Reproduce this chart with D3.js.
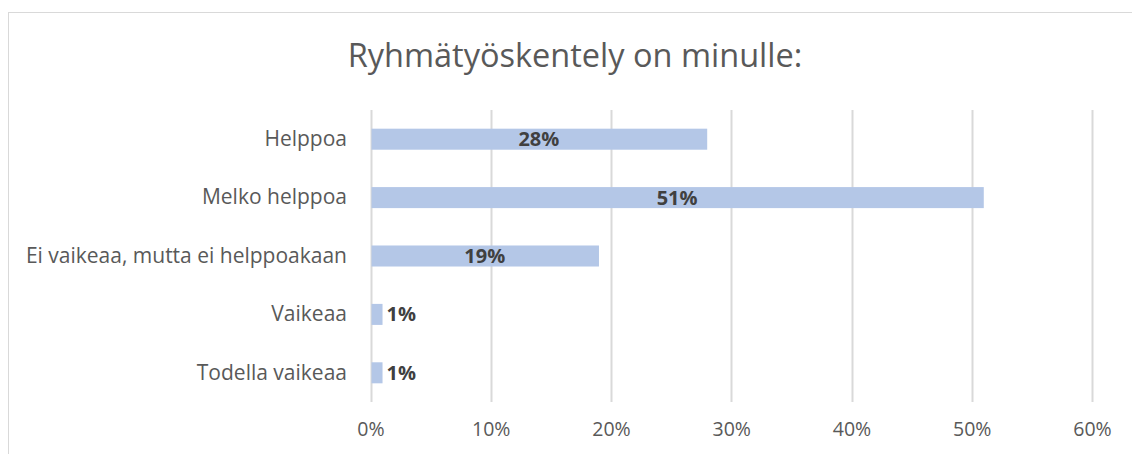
<!DOCTYPE html>
<html>
<head>
<meta charset="utf-8">
<script src="https://cdn.jsdelivr.net/npm/d3@7"></script>
<style>
  body { margin: 0; background: #fff; }
  svg { display: block; font-family: "Open Sans", sans-serif; }
</style>
</head>
<body>
<svg width="1132" height="454"></svg>
<script>
// data
var categories = ['Helppoa', 'Melko helppoa', 'Ei vaikeaa, mutta ei helppoakaan', 'Vaikeaa', 'Todella vaikeaa'];
var values = [28, 51, 19, 1, 1];
var tickValues = [0, 10, 20, 30, 40, 50, 60];
var title = 'Ryhmätyöskentely on minulle:';

var svg = d3.select('svg');

// chart frame (cut off on the right and bottom)
svg.append('rect')
    .attr('x', 8.5).attr('y', 12.5)
    .attr('width', 1140).attr('height', 460)
    .attr('fill', 'none')
    .attr('stroke', '#d9d9d9');

var x = d3.scaleLinear().domain([0, 60]).range([370.5, 1092]);
var y = d3.scaleBand().domain(categories).range([110, 402]).paddingInner(0.64).paddingOuter(0.32);

// gridlines
svg.append('g')
    .selectAll('line')
    .data(tickValues)
    .enter()
    .append('line')
    .attr('x1', function (d) { return Math.round(x(d)) + 0.5; })
    .attr('x2', function (d) { return Math.round(x(d)) + 0.5; })
    .attr('y1', 110).attr('y2', 402)
    .attr('stroke', '#d9d9d9')
    .attr('stroke-width', 2);

// x axis labels
var xAxis = svg.append('g')
    .attr('transform', 'translate(0,402)')
    .call(d3.axisBottom(x).tickValues(tickValues).tickSize(0).tickPadding(20)
        .tickFormat(function (d) { return d + '%'; }));
xAxis.select('.domain').remove();
xAxis.selectAll('text')
    .attr('fill', '#595959')
    .style('font-size', '19.5px')
    .style('font-family', '"Open Sans", sans-serif');

// category labels
var yAxis = svg.append('g')
    .attr('transform', 'translate(370,0)')
    .call(d3.axisLeft(y).tickSize(0).tickPadding(23));
yAxis.select('.domain').remove();
yAxis.selectAll('text')
    .attr('fill', '#595959')
    .style('font-size', '21px')
    .style('font-family', '"Open Sans", sans-serif');

// bars
svg.append('g')
    .selectAll('rect')
    .data(values)
    .enter()
    .append('rect')
    .attr('x', x(0) + 1)
    .attr('y', function (d, i) { return y(categories[i]); })
    .attr('width', function (d) { return x(d) - x(0) - 1; })
    .attr('height', y.bandwidth())
    .attr('fill', '#b4c7e7');

// value labels
svg.append('g')
    .selectAll('text')
    .data(values)
    .enter()
    .append('text')
    .attr('x', function (d) { return d < 5 ? x(d) + 4 : (x(0) + x(d)) / 2; })
    .attr('y', function (d, i) { return y(categories[i]) + y.bandwidth() / 2; })
    .attr('dy', '0.35em')
    .attr('text-anchor', function (d) { return d < 5 ? 'start' : 'middle'; })
    .attr('fill', '#404040')
    .style('font-size', '20px')
    .style('font-weight', 'bold')
    .text(function (d) { return d + '%'; });

// title
svg.append('text')
    .attr('x', 575).attr('y', 67)
    .attr('text-anchor', 'middle')
    .attr('fill', '#595959')
    .style('font-size', '32.5px')
    .text(title);
</script>
</body>
</html>
